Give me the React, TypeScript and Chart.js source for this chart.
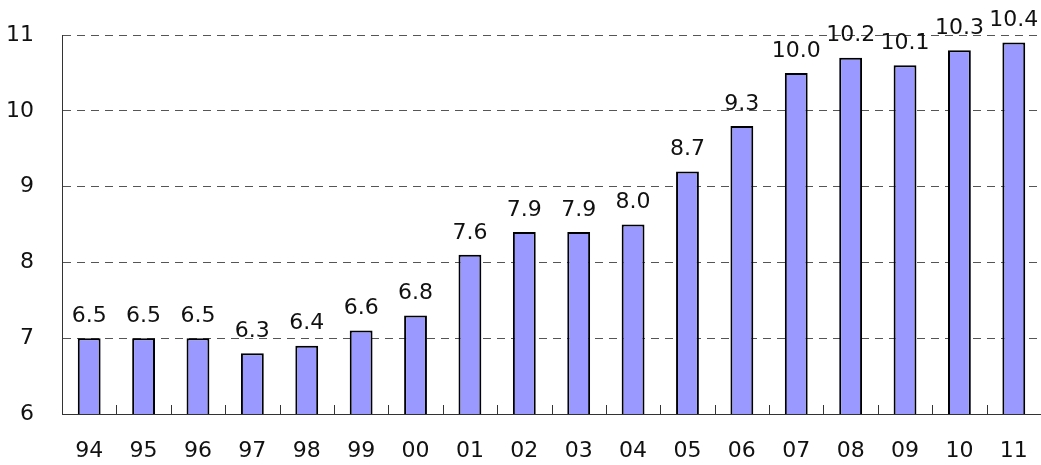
import React, { useEffect, useRef } from "react";
import { Chart, registerables } from "chart.js";

Chart.register(...registerables);

const categories = ["94", "95", "96", "97", "98", "99", "00", "01", "02", "03", "04", "05", "06", "07", "08", "09", "10", "11"];
// bar heights as drawn against the axis
const barValues = [7.0, 7.0, 7.0, 6.8, 6.9, 7.1, 7.3, 8.1, 8.4, 8.4, 8.5, 9.2, 9.8, 10.5, 10.7, 10.6, 10.8, 10.9];
// value labels printed above bars
const labelValues = ["6.5", "6.5", "6.5", "6.3", "6.4", "6.6", "6.8", "7.6", "7.9", "7.9", "8.0", "8.7", "9.3", "10.0", "10.2", "10.1", "10.3", "10.4"];
const yMin = 6;
const yMax = 11;

const FONT = "'DejaVu Sans', sans-serif";

const innerTicks = {
  id: "innerTicks",
  afterDatasetsDraw(chart: any) {
    const x = chart.scales.x;
    const { ctx, chartArea } = chart;
    ctx.save();
    ctx.strokeStyle = "#333";
    ctx.lineWidth = 1;
    const n = categories.length;
    for (let i = 1; i < n; i++) {
      const px = Math.round((x.getPixelForValue(i - 1) + x.getPixelForValue(i)) / 2) + 0.5;
      ctx.beginPath();
      ctx.moveTo(px, chartArea.bottom);
      ctx.lineTo(px, chartArea.bottom - 9);
      ctx.stroke();
    }
    ctx.restore();
  },
};

const valueLabels = {
  id: "valueLabels",
  afterDatasetsDraw(chart: any) {
    const { ctx } = chart;
    const meta = chart.getDatasetMeta(0);
    ctx.save();
    ctx.font = `22px ${FONT}`;
    ctx.fillStyle = "#111";
    ctx.textAlign = "center";
    ctx.textBaseline = "bottom";
    meta.data.forEach((bar: any, i: number) => {
      ctx.fillText(labelValues[i], bar.x, bar.y - 11);
    });
    ctx.restore();
  },
};

export default function App() {
  const ref = useRef<HTMLCanvasElement>(null);
  useEffect(() => {
    document.body.style.margin = "0";
    const chart = new Chart(ref.current!, {
      type: "bar",
      data: {
        labels: categories,
        datasets: [
          {
            data: barValues,
            backgroundColor: "#9999FF",
            borderColor: "#000",
            borderWidth: 2,
            barPercentage: 0.42,
            categoryPercentage: 1,
          },
        ],
      },
      options: {
        animation: false,
        responsive: false,
        maintainAspectRatio: false,
        layout: { padding: { top: 35, right: 0, bottom: 0, left: 0 } },
        plugins: { legend: { display: false }, tooltip: { enabled: false } },
        scales: {
          x: {
            offset: true,
            grid: {
              display: true,
              drawOnChartArea: false,
              drawTicks: true,
              tickLength: 24,
              tickColor: "rgba(0,0,0,0)",
            },
            border: { display: true, color: "#333", width: 1 },
            ticks: { color: "#111", font: { family: FONT, size: 22 }, padding: 0 },
            afterFit: (s: any) => {
              s.height = 51;
            },
          },
          y: {
            min: yMin,
            max: yMax,
            grid: {
              drawTicks: true,
              tickLength: 22,
              tickColor: "rgba(0,0,0,0)",
              color: (c: any) => (c.tick && c.tick.value === yMin ? "rgba(0,0,0,0)" : "#555"),
              lineWidth: 1,
            },
            border: { display: true, color: "#333", width: 1, dash: [8, 6] },
            ticks: { stepSize: 1, color: "#111", font: { family: FONT, size: 22 }, padding: 6 },
            afterFit: (s: any) => {
              s.width = 62;
            },
          },
        },
      },
      plugins: [innerTicks, valueLabels],
    });
    return () => chart.destroy();
  }, []);
  return (
    <div style={{ position: "relative", width: 1041, height: 465 }}>
      <canvas ref={ref} width={1041} height={465} style={{ width: 1041, height: 465 }} />
    </div>
  );
}
